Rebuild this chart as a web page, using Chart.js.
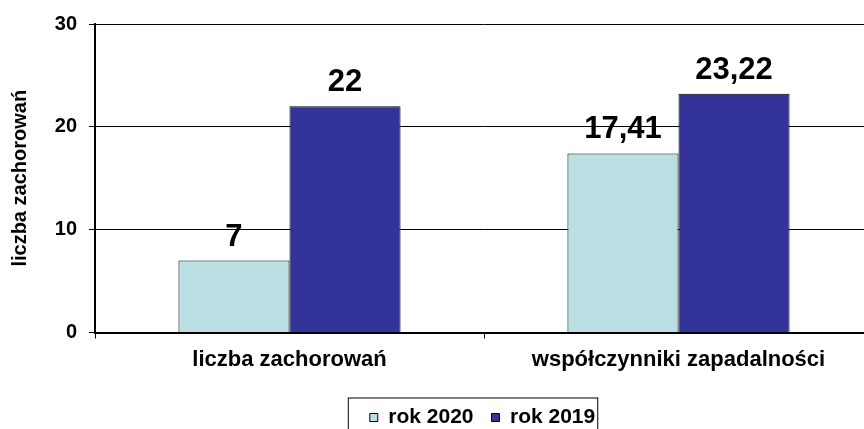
<!DOCTYPE html>
<html>
<head>
<meta charset="utf-8">
<script src="https://cdn.jsdelivr.net/npm/chart.js@4.4.0/dist/chart.umd.min.js"></script>
<style>
  html, body { margin: 0; padding: 0; overflow: hidden; background: #fff; }
</style>
</head>
<body>
<canvas id="chart" width="900" height="438"></canvas>
<script>
// data
const categories = ['liczba zachorowań', 'współczynniki zapadalności'];
const seriesNames = ['rok 2020', 'rok 2019'];
const rok2020 = [7, 17.41];
const rok2019 = [22, 23.22];
const yTicks = [0, 10, 20, 30];

const FONT = '"Liberation Sans", Arial, sans-serif';

// numbers printed above the bars, Polish decimal comma
const valueLabels = {
  id: 'valueLabels',
  afterDatasetsDraw(chart) {
    const ctx = chart.ctx;
    ctx.save();
    ctx.font = 'bold 31px ' + FONT;
    ctx.fillStyle = '#000';
    ctx.textAlign = 'center';
    ctx.textBaseline = 'alphabetic';
    chart.data.datasets.forEach((ds, i) => {
      chart.getDatasetMeta(i).data.forEach((bar, j) => {
        ctx.fillText(String(ds.data[j]).replace('.', ','), bar.x, bar.y - 15);
      });
    });
    ctx.restore();
  }
};

// legend sits a bit right of the canvas centre and has a frame
const legendFrame = {
  id: 'legendFrame',
  afterLayout(chart) {
    chart.legend.left += 46;
    chart.legend.right += 46;
  },
  afterDraw(chart) {
    const boxes = chart.legend.legendHitBoxes;
    if (!boxes || !boxes.length) return;
    const first = boxes[0];
    const last = boxes[boxes.length - 1];
    const ctx = chart.ctx;
    const midY = first.top + first.height / 2;
    ctx.save();
    ctx.strokeStyle = '#000';
    ctx.lineWidth = 1;
    ctx.strokeRect(first.left - 21.5, midY - 19.5, last.left + last.width - first.left + 24, 60);
    ctx.restore();
  }
};

new Chart(document.getElementById('chart'), {
  type: 'bar',
  data: {
    labels: categories,
    datasets: [
      {
        label: seriesNames[0],
        data: rok2020,
        backgroundColor: '#BAE0E3',
        borderColor: '#000',
        borderWidth: 1
      },
      {
        label: seriesNames[1],
        data: rok2019,
        backgroundColor: '#333399',
        borderColor: '#000',
        borderWidth: 1
      }
    ]
  },
  options: {
    responsive: false,
    animation: false,
    layout: { padding: { top: 23, right: 27, bottom: 0, left: 0 } },
    datasets: {
      bar: { categoryPercentage: 0.571, barPercentage: 1.0 }
    },
    plugins: {
      tooltip: { enabled: false },
      legend: {
        position: 'bottom',
        labels: {
          color: '#000',
          font: { family: FONT, size: 21, weight: 'bold' },
          boxWidth: 8,
          boxHeight: 8,
          padding: 18
        }
      }
    },
    scales: {
      x: {
        grid: {
          drawOnChartArea: false,
          drawTicks: true,
          tickLength: 6,
          color: '#000',
          offset: true
        },
        border: { color: '#000', width: 2 },
        ticks: {
          color: '#000',
          font: { family: FONT, size: 22, weight: 'bold' },
          padding: 8,
          maxRotation: 0
        },
        afterFit(scale) { scale.height = 56.5; }
      },
      y: {
        min: 0,
        max: 30,
        afterBuildTicks(scale) { scale.ticks = yTicks.map(v => ({ value: v })); },
        grid: { color: '#000', lineWidth: 1, tickLength: 6 },
        border: { color: '#000', width: 2 },
        ticks: {
          color: '#000',
          font: { family: FONT, size: 20, weight: 'bold' },
          padding: 12
        },
        title: {
          display: true,
          text: 'liczba zachorowań',
          color: '#000',
          font: { family: FONT, size: 20, weight: 'bold' },
          padding: { top: 8, bottom: 0 }
        },
        afterFit(scale) { scale.width = 95; }
      }
    }
  },
  plugins: [valueLabels, legendFrame]
});
</script>
</body>
</html>
